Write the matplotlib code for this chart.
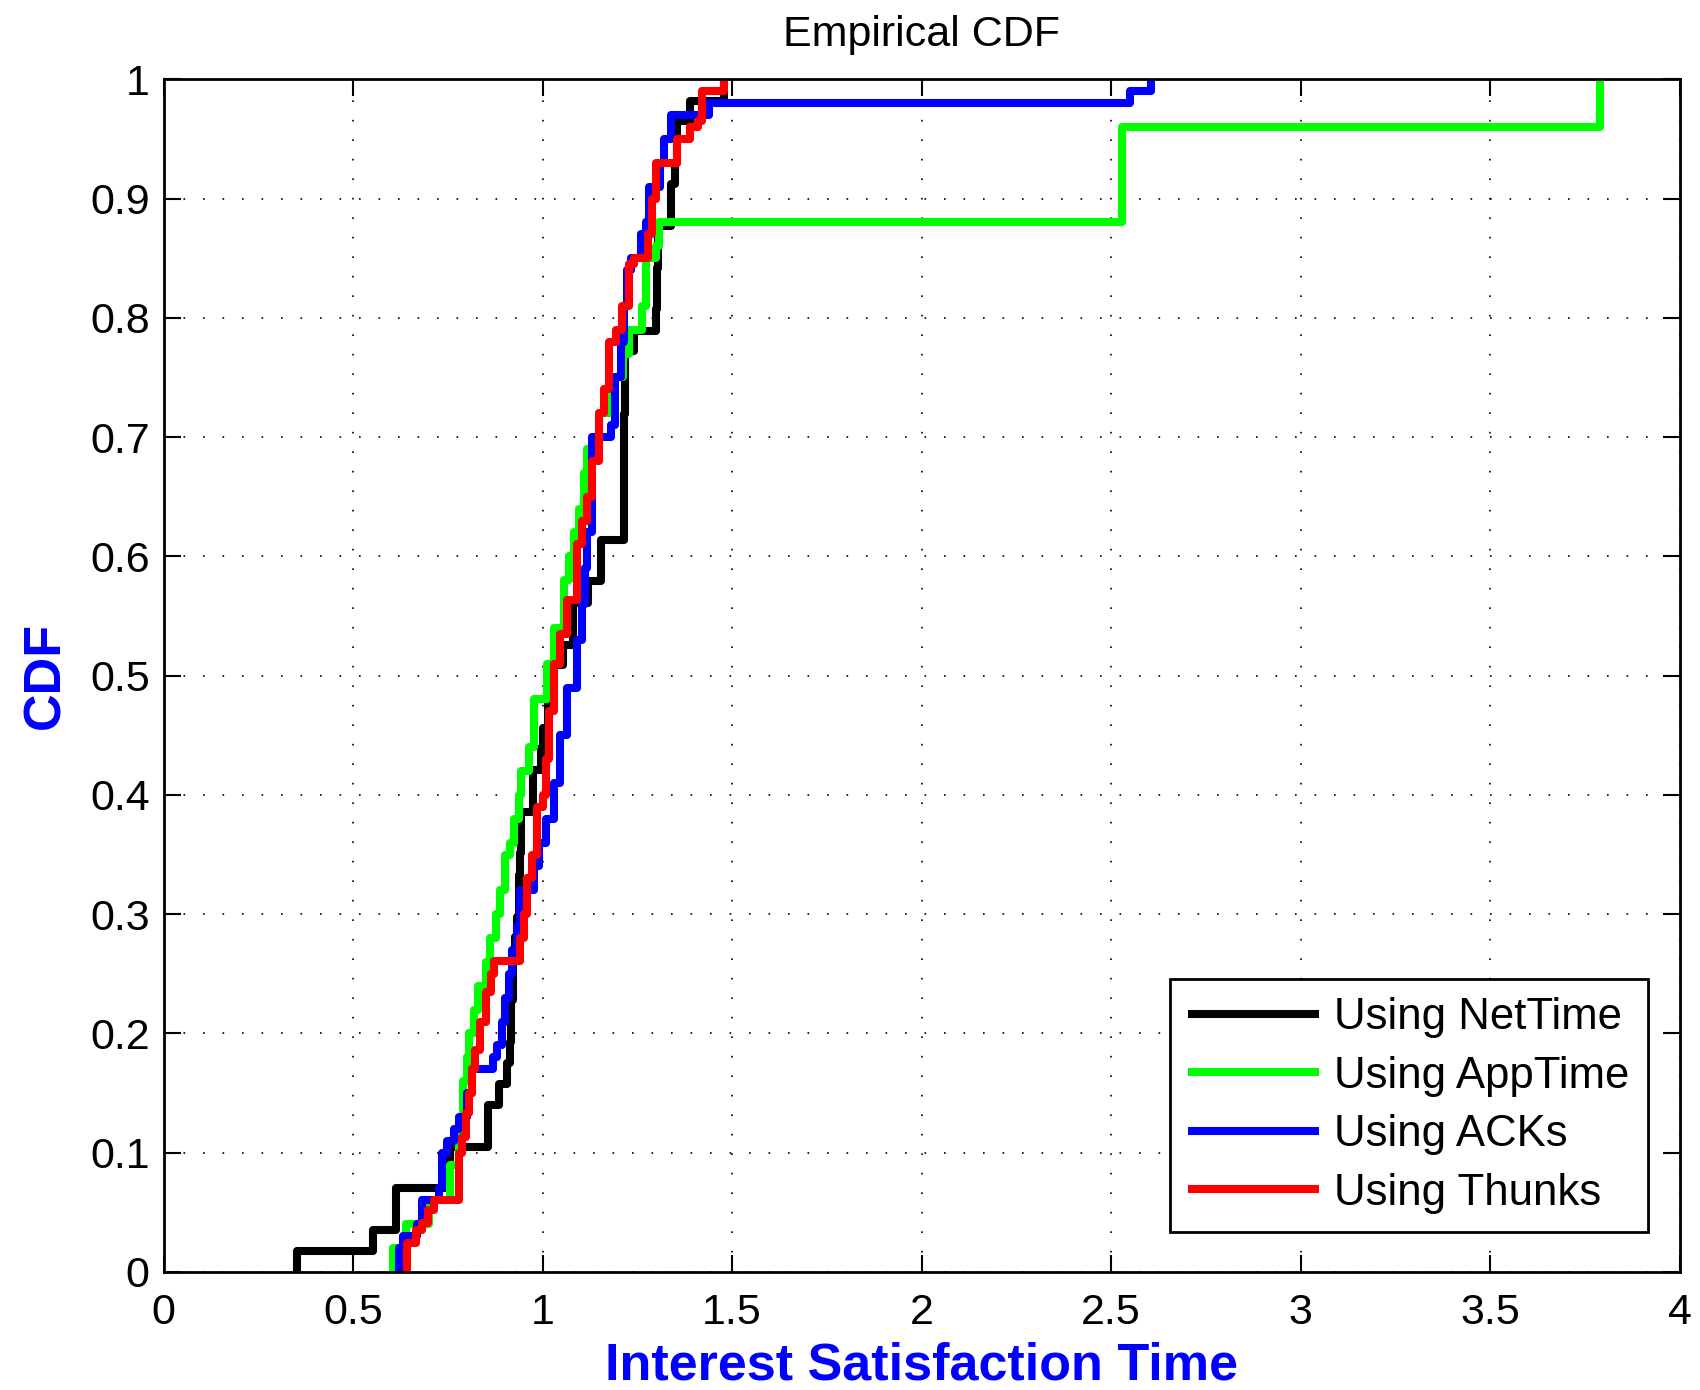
import numpy as np
import matplotlib
matplotlib.use("Agg")
import matplotlib.pyplot as plt

plt.rcParams['font.family'] = ['Liberation Sans', 'DejaVu Sans']

# Empirical CDF step points: x where the CDF jumps, y = CDF value after the jump
net_x = [0.353, 0.553, 0.614, 0.757, 0.857, 0.884, 0.907, 0.915, 0.918, 0.921, 0.926,
         0.933, 0.938, 0.941, 0.944, 0.976, 0.995, 1.000, 1.015, 1.030, 1.055, 1.080,
         1.120, 1.153, 1.214, 1.216, 1.218, 1.240, 1.300, 1.302, 1.305, 1.338, 1.350,
         1.355, 1.390, 1.480]
net_y = [0.018, 0.035, 0.070, 0.105, 0.140, 0.158, 0.175, 0.193, 0.228, 0.263, 0.281,
         0.298, 0.333, 0.351, 0.386, 0.421, 0.439, 0.456, 0.491, 0.509, 0.526, 0.561,
         0.579, 0.614, 0.667, 0.719, 0.772, 0.789, 0.807, 0.842, 0.877, 0.912, 0.930,
         0.965, 0.982, 1.000]

app_x = [0.606, 0.640, 0.700, 0.757, 0.780, 0.790, 0.800, 0.805, 0.818, 0.830, 0.850,
         0.862, 0.876, 0.889, 0.902, 0.915, 0.925, 0.937, 0.942, 0.964, 0.977, 1.013,
         1.030, 1.056, 1.069, 1.083, 1.096, 1.109, 1.118, 1.150, 1.180, 1.211, 1.228,
         1.263, 1.272, 1.300, 1.307, 2.530, 3.790]
app_y = [0.020, 0.040, 0.060, 0.090, 0.120, 0.160, 0.180, 0.200, 0.220, 0.240, 0.260,
         0.280, 0.300, 0.320, 0.350, 0.360, 0.380, 0.400, 0.420, 0.440, 0.480, 0.510,
         0.540, 0.580, 0.600, 0.620, 0.640, 0.670, 0.690, 0.720, 0.750, 0.770, 0.790,
         0.810, 0.850, 0.860, 0.880, 0.960, 1.000]

ack_x = [0.620, 0.633, 0.670, 0.683, 0.726, 0.735, 0.749, 0.766, 0.779, 0.800, 0.815,
         0.868, 0.880, 0.893, 0.902, 0.911, 0.920, 0.933, 0.940, 0.977, 0.990, 1.010,
         1.030, 1.047, 1.065, 1.090, 1.105, 1.113, 1.118, 1.130, 1.180, 1.190, 1.206,
         1.215, 1.224, 1.233, 1.259, 1.272, 1.280, 1.310, 1.320, 1.338, 1.440, 2.550,
         2.605]
ack_y = [0.020, 0.030, 0.040, 0.060, 0.070, 0.100, 0.110, 0.120, 0.130, 0.150, 0.170,
         0.180, 0.190, 0.210, 0.230, 0.250, 0.270, 0.290, 0.320, 0.340, 0.360, 0.380,
         0.410, 0.450, 0.490, 0.530, 0.560, 0.590, 0.620, 0.700, 0.710, 0.750, 0.780,
         0.810, 0.840, 0.850, 0.870, 0.880, 0.910, 0.930, 0.950, 0.970, 0.980, 0.990,
         1.000]

thk_x = [0.643, 0.665, 0.683, 0.697, 0.713, 0.779, 0.788, 0.797, 0.805, 0.814, 0.823,
         0.836, 0.850, 0.863, 0.871, 0.940, 0.950, 0.960, 0.972, 0.985, 1.000, 1.008,
         1.017, 1.030, 1.047, 1.065, 1.090, 1.105, 1.118, 1.130, 1.148, 1.162, 1.175,
         1.193, 1.210, 1.228, 1.240, 1.277, 1.290, 1.300, 1.356, 1.390, 1.410, 1.420,
         1.480]
thk_y = [0.024, 0.035, 0.041, 0.052, 0.060, 0.100, 0.113, 0.133, 0.150, 0.170, 0.186,
         0.210, 0.235, 0.250, 0.261, 0.280, 0.300, 0.330, 0.350, 0.390, 0.400, 0.430,
         0.470, 0.510, 0.535, 0.563, 0.610, 0.630, 0.650, 0.680, 0.720, 0.740, 0.780,
         0.790, 0.810, 0.845, 0.850, 0.870, 0.900, 0.930, 0.950, 0.960, 0.965, 0.990,
         1.000]

series = [
    ("Using NetTime", net_x, net_y, (0, 0, 0)),
    ("Using AppTime", app_x, app_y, (0, 1, 0)),
    ("Using ACKs", ack_x, ack_y, (0, 0, 1)),
    ("Using Thunks", thk_x, thk_y, (1, 0, 0)),
]

x_ticks = [0, 0.5, 1, 1.5, 2, 2.5, 3, 3.5, 4]
x_tick_labels = ["0", "0.5", "1", "1.5", "2", "2.5", "3", "3.5", "4"]
y_ticks = [0, 0.1, 0.2, 0.3, 0.4, 0.5, 0.6, 0.7, 0.8, 0.9, 1]
y_tick_labels = ["0", "0.1", "0.2", "0.3", "0.4", "0.5", "0.6", "0.7", "0.8", "0.9", "1"]

fig = plt.figure(figsize=(17, 13.9), dpi=100)
ax = fig.add_axes([0.0962, 0.0849, 0.8918, 0.8581])

for label, xs, ys, color in series:
    xs = np.r_[xs[0], xs]
    ys = np.r_[0.0, ys]
    ax.step(xs, ys, where='post', color=color, lw=5.8, label=label,
            solid_joinstyle='round', solid_capstyle='butt')

ax.set_xlim(0, 4)
ax.set_ylim(0, 1)
ax.set_xticks(x_ticks)
ax.set_xticklabels(x_tick_labels)
ax.set_yticks(y_ticks)
ax.set_yticklabels(y_tick_labels)
ax.tick_params(direction='in', length=12, width=1.5, top=True, right=True,
               labelsize=31)
ax.tick_params(axis='x', pad=15)
ax.tick_params(axis='y', pad=10)
ax.grid(True, linestyle=(0, (1, 10.7)), color='black', linewidth=1.2)
for sp in ax.spines.values():
    sp.set_linewidth(2.0)

ax.set_title("Empirical CDF", fontsize=31, pad=24)
ax.set_xlabel("Interest Satisfaction Time", fontsize=37.5, fontweight='bold',
              color=(0, 0, 1), labelpad=6)
ax.set_ylabel("CDF", fontsize=37.5, fontweight='bold', color=(0, 0, 1), labelpad=14)

leg = ax.legend(loc='lower right', bbox_to_anchor=(0.979, 0.0335), fontsize=31.5,
                handlelength=3.0, handletextpad=0.34, labelspacing=0.4,
                borderpad=0.42, borderaxespad=0, fancybox=False, framealpha=1,
                edgecolor='black')
leg.get_frame().set_linewidth(2.0)

fig.savefig("out.png", dpi=100)
